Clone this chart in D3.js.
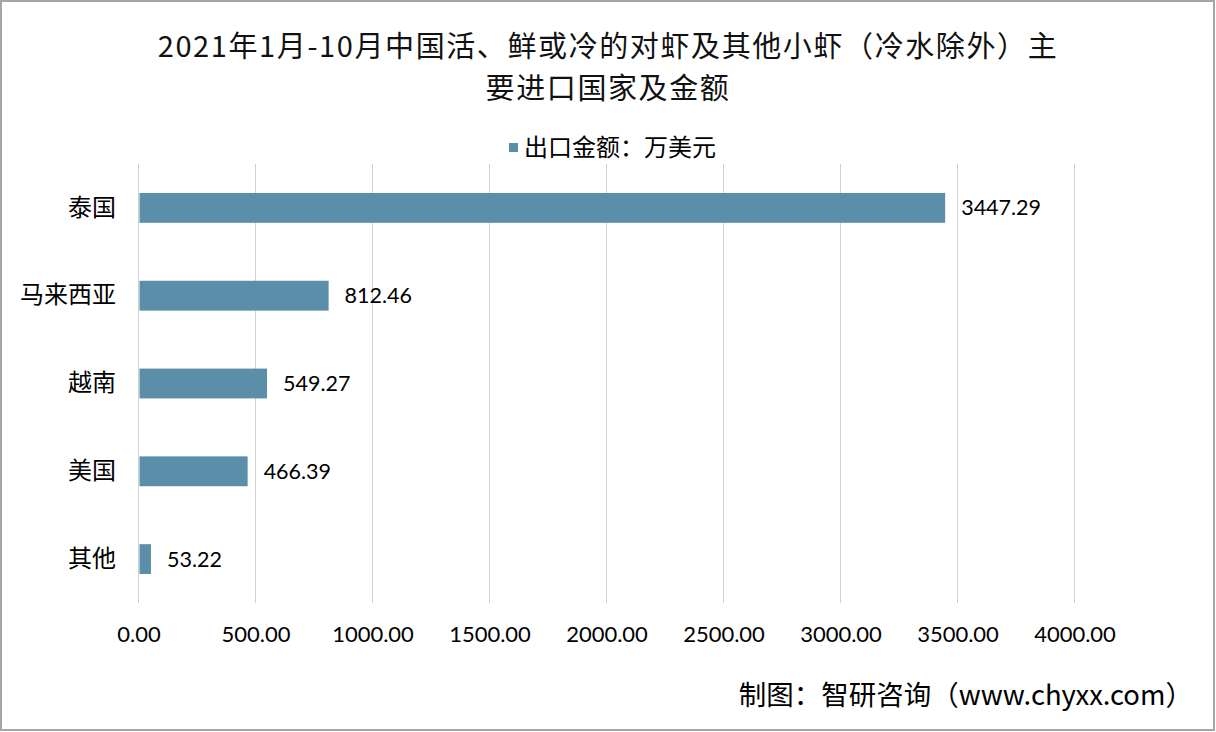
<!DOCTYPE html>
<html><head><meta charset="utf-8">
<script src="https://cdn.jsdelivr.net/npm/d3@7"></script>
<style>html,body{margin:0;padding:0;background:#fff;}svg{display:block;}</style>
</head><body>
<script>
const categories = ["泰国","马来西亚","越南","美国","其他"];
const values = [3447.29, 812.46, 549.27, 466.39, 53.22];
const tickValues = [0,500,1000,1500,2000,2500,3000,3500,4000];
const titleLines = ["2021年1月-10月中国活、鲜或冷的对虾及其他小虾（冷水除外）主","要进口国家及金额"];
const legendLabel = "出口金额：万美元";
const sourceText = "制图：智研咨询（www.chyxx.com）";

const W = 1216, H = 732;
const cjk = "'Noto Sans CJK SC','Noto Sans',sans-serif";
const num = "Lato,'Noto Sans',sans-serif";
const barColor = "#5b8fa9";

const svg = d3.select("body").append("svg").attr("width", W).attr("height", H);
svg.append("rect").attr("x",1).attr("y",1).attr("width",W-3).attr("height",H-3)
  .attr("fill","#fff").attr("stroke","#a6a6a6").attr("stroke-width",2);

const x = d3.scaleLinear().domain([0,4000]).range([138.5,1074.5]);
const y = d3.scaleBand().domain(categories).range([164,603]).paddingInner(0.66).paddingOuter(0.33);

// gridlines
svg.append("g").selectAll("line").data(tickValues).join("line")
  .attr("x1",d=>x(d)).attr("x2",d=>x(d)).attr("y1",164).attr("y2",603)
  .attr("stroke","#d0d0d0").attr("stroke-width",1);

// x axis labels
const xAxis = d3.axisBottom(x).tickValues(tickValues).tickFormat(d=>d3.format(".2f")(d)).tickSize(0).tickPadding(0);
const gx = svg.append("g").attr("transform","translate(0,626)").call(xAxis);
gx.select(".domain").remove();
gx.selectAll("text").attr("font-family",num).attr("font-size",22).attr("fill","#000");

// y axis labels
const yAxis = d3.axisLeft(y).tickSize(0).tickPadding(0);
const gy = svg.append("g").attr("transform","translate(116,0)").call(yAxis);
gy.select(".domain").remove();
gy.selectAll("text").attr("font-family",cjk).attr("font-size",24).attr("fill","#000");

// bars
const data = categories.map((c,i)=>({c, v: values[i]}));
svg.append("g").selectAll("rect").data(data).join("rect")
  .attr("x",x(0)+1).attr("y",d=>y(d.c)).attr("width",d=>x(d.v)-x(0)-1).attr("height",y.bandwidth())
  .attr("fill",barColor);

// value labels
svg.append("g").selectAll("text").data(data).join("text")
  .attr("x",d=>x(d.v)+16).attr("y",d=>y(d.c)+y.bandwidth()/2).attr("dy","0.35em")
  .attr("font-family",num).attr("font-size",21.5).attr("fill","#000")
  .text(d=>d3.format(".2f")(d.v));

// title
svg.append("g").selectAll("text").data(titleLines).join("text")
  .attr("x",608).attr("y",(d,i)=>57+i*42).attr("text-anchor","middle")
  .attr("font-family",cjk).attr("font-size",29).attr("letter-spacing",1.6).attr("fill","#111").text(d=>d);

// legend
svg.append("rect").attr("x",509).attr("y",143).attr("width",9).attr("height",9).attr("fill",barColor);
svg.append("text").attr("x",524).attr("y",148).attr("dy","0.35em")
  .attr("font-family",cjk).attr("font-size",24).attr("fill","#000").text(legendLabel);

// source
svg.append("text").attr("x",1193).attr("y",695).attr("dy","0.35em").attr("text-anchor","end")
  .attr("font-family",cjk).attr("font-size",27.5).attr("fill","#000").text(sourceText);
</script>
</body></html>
